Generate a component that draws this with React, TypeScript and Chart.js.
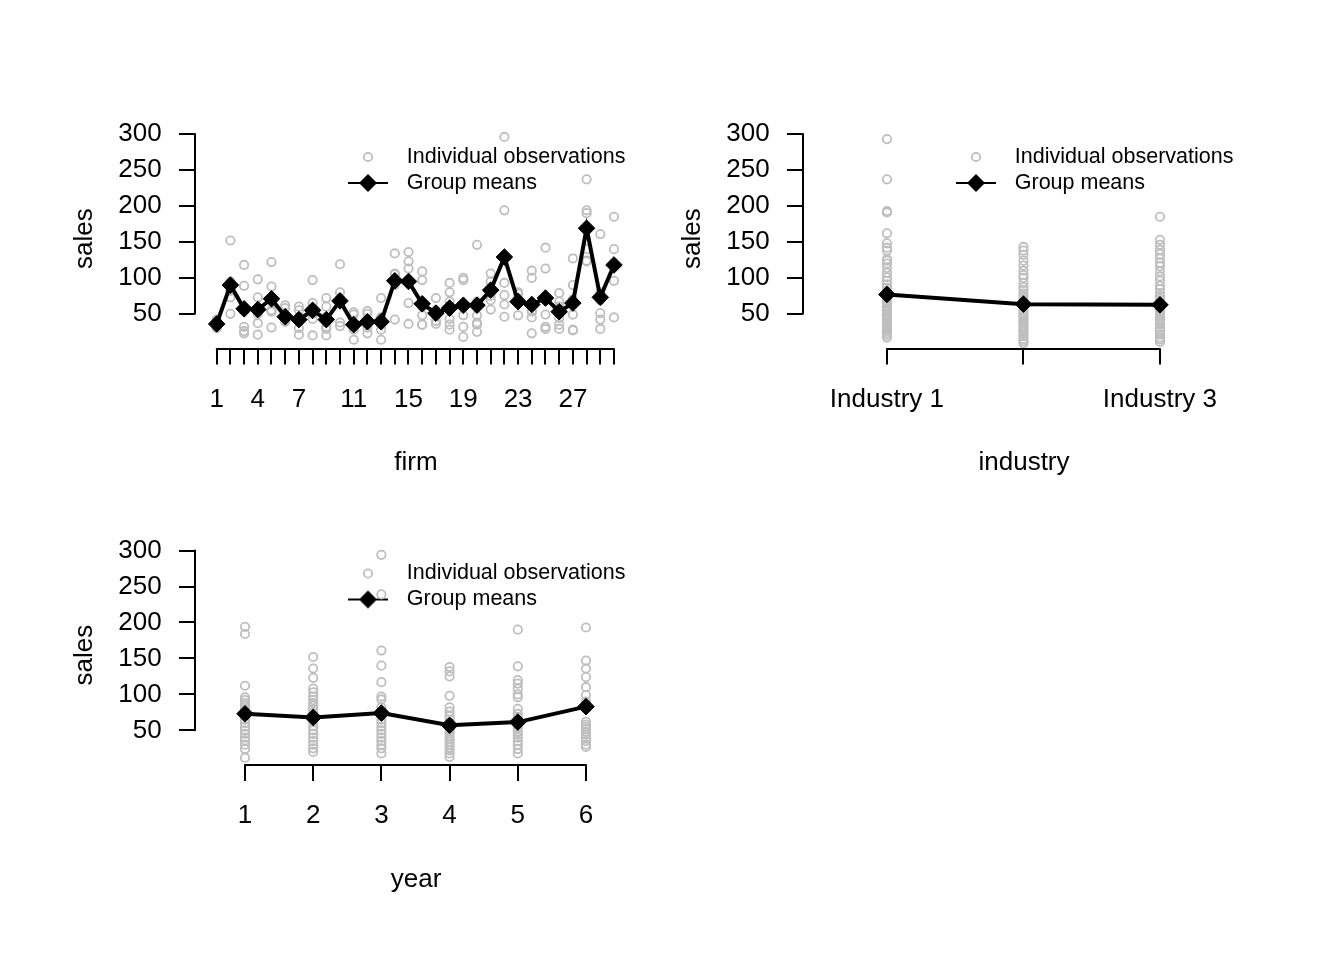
import React, { useEffect, useRef } from "react";
import { Chart, registerables } from "chart.js";

Chart.register(...registerables);
Chart.defaults.color = "#000";

const FONT = '"Liberation Sans", Arial, Helvetica, sans-serif';

// ---------------- data ----------------
const yTicks = [50, 100, 150, 200, 250, 300];

const firms = Array.from({ length: 30 }, (_, i) => i + 1);
const firmTickLabels = [
  "1", "", "", "4", "", "", "7", "", "", "", "11", "", "", "", "15",
  "", "", "", "19", "", "", "", "23", "", "", "", "27", "", "", "",
];
const firmObs = [
  [42, 39, 37, 34, 32, 30],
  [152, 95, 88, 82, 73, 50],
  [118, 89, 54, 32, 26, 23],
  [98, 73, 57, 50, 37, 21],
  [122, 88, 71, 55, 53, 31],
  [62, 58, 47, 45, 40, 39],
  [60, 55, 45, 42, 30, 21],
  [97, 65, 55, 50, 43, 20],
  [72, 60, 40, 32, 29, 20],
  [119, 80, 72, 66, 38, 33],
  [52, 49, 35, 32, 28, 14],
  [54, 50, 40, 36, 31, 23],
  [72, 45, 40, 35, 28, 14],
  [134, 106, 105, 98, 90, 42],
  [136, 123, 113, 97, 65, 36],
  [109, 97, 60, 48, 35, 35],
  [72, 55, 52, 48, 40, 36],
  [93, 80, 67, 43, 35, 28],
  [100, 97, 60, 48, 32, 18],
  [146, 67, 48, 38, 35, 25],
  [106, 95, 85, 75, 69, 56],
  [296, 194, 93, 76, 63, 46],
  [80, 78, 72, 68, 66, 48],
  [110, 100, 54, 53, 45, 23],
  [142, 113, 69, 49, 32, 29],
  [79, 67, 60, 44, 35, 29],
  [127, 90, 70, 49, 28, 27],
  [237, 194, 190, 140, 124, 123],
  [161, 80, 69, 51, 42, 29],
  [185, 140, 120, 116, 96, 45],
];
const firmMeans = [
  36, 90, 57, 56, 71, 46, 42, 55, 42, 68, 35, 39, 39, 96, 95,
  64, 51, 58, 62, 62, 83, 129, 67, 63, 72, 53, 65, 169, 73, 118,
];

const industries = [1, 2, 3];
const industryTickLabels = ["Industry 1", "", "Industry 3"];
const industryObs = [
  [293, 237, 193, 191, 162, 148, 142, 138, 126, 124, 120, 114, 107, 101, 96, 91, 86, 82, 79, 74,
    71, 68, 65, 61, 58, 55, 53, 50, 47, 44, 42, 39, 36, 34, 31, 29, 26, 23, 20, 17],
  [143, 138, 132, 124, 117, 110, 104, 100, 93, 87, 83, 78, 74, 70, 66, 62, 59, 55, 52, 49,
    46, 43, 40, 37, 34, 31, 28, 25, 22, 19, 15, 12, 9],
  [185, 153, 146, 139, 133, 127, 121, 116, 109, 102, 96, 89, 84, 79, 75, 71, 66, 62, 58, 54,
    51, 47, 44, 41, 38, 35, 31, 28, 25, 21, 17, 14, 11],
];
const industryMeans = [77, 63.5, 62.5];

const years = [1, 2, 3, 4, 5, 6];
const yearTickLabels = ["1", "2", "3", "4", "5", "6"];
const yearObs = [
  [194, 184, 112, 96, 92, 88, 84, 80, 75, 70, 65, 60, 55, 50, 45, 40, 36, 30, 24, 12],
  [152, 136, 123, 108, 103, 97, 92, 88, 84, 79, 74, 68, 62, 56, 50, 45, 40, 35, 30, 25, 20],
  [294, 239, 161, 140, 117, 97, 93, 82, 76, 70, 65, 60, 55, 50, 45, 40, 35, 30, 25, 18],
  [138, 132, 125, 98, 82, 76, 70, 65, 60, 55, 50, 46, 42, 38, 34, 30, 26, 22, 18, 13],
  [190, 139, 120, 115, 108, 100, 96, 80, 73, 68, 63, 58, 53, 48, 44, 40, 35, 30, 24, 18],
  [193, 147, 136, 124, 110, 99, 90, 62, 58, 55, 52, 48, 44, 40, 35, 30, 27],
];
const yearMeans = [73, 68, 74, 57, 61.5, 83];

const legendTexts = ["Individual observations", "Group means"];

// ---------------- styling / layout ----------------
const GRAY = "#BEBEBE";
const TICK_FONT = 26;
const LEGEND_FONT = 21.5;
const Y_MIN = 1.7;
const Y_MAX = 307.3;
const CIRCLE_R = 4.2;
const CIRCLE_W = 1.8;

type PanelSpec = {
  canvas: { x: number; y: number; w: number; h: number };
  plot: { L: number; R: number; T: number; B: number };
  xMin: number;
  xMax: number;
  cats: number[];
  tickLabels: string[];
  obs: number[][];
  means: number[];
  xTitle: string;
  xTitleY: number;
  yTitleX: number;
  legend: { x: number; y: number };
};

const panels: PanelSpec[] = [
  {
    canvas: { x: 0, y: 0, w: 672, h: 480 },
    plot: { L: 195, R: 637, T: 128.8, B: 348.6 },
    xMin: -0.584,
    xMax: 31.68,
    cats: firms,
    tickLabels: firmTickLabels,
    obs: firmObs,
    means: firmMeans,
    xTitle: "firm",
    xTitleY: 463,
    yTitleX: 85,
    legend: { x: 368, y: 157 },
  },
  {
    canvas: { x: 600, y: 0, w: 744, h: 480 },
    plot: { L: 803, R: 1245, T: 128.8, B: 348.6 },
    xMin: 0.385,
    xMax: 3.623,
    cats: industries,
    tickLabels: industryTickLabels,
    obs: industryObs,
    means: industryMeans,
    xTitle: "industry",
    xTitleY: 463,
    yTitleX: 693,
    legend: { x: 976, y: 157 },
  },
  {
    canvas: { x: 0, y: 416, w: 672, h: 544 },
    plot: { L: 195, R: 637, T: 545.3, B: 765.1 },
    xMin: 0.267,
    xMax: 6.748,
    cats: years,
    tickLabels: yearTickLabels,
    obs: yearObs,
    means: yearMeans,
    xTitle: "year",
    xTitleY: 880,
    yTitleX: 85,
    legend: { x: 368, y: 573.5 },
  },
];

function makeCircleImg(): HTMLCanvasElement {
  const c = document.createElement("canvas");
  c.width = 14;
  c.height = 14;
  const g = c.getContext("2d")!;
  g.strokeStyle = GRAY;
  g.lineWidth = CIRCLE_W;
  g.beginPath();
  g.arc(7, 7, CIRCLE_R, 0, Math.PI * 2);
  g.stroke();
  return c;
}

function makeLineDiamondImg(): HTMLCanvasElement {
  const c = document.createElement("canvas");
  c.width = 40;
  c.height = 22;
  const g = c.getContext("2d")!;
  g.strokeStyle = "#000";
  g.lineWidth = 2;
  g.beginPath();
  g.moveTo(0, 11);
  g.lineTo(40, 11);
  g.stroke();
  g.fillStyle = "#000";
  g.beginPath();
  g.moveTo(20, 2);
  g.lineTo(29, 11);
  g.lineTo(20, 20);
  g.lineTo(11, 11);
  g.closePath();
  g.fill();
  return c;
}

function Panel({ spec }: { spec: PanelSpec }) {
  const ref = useRef<HTMLCanvasElement | null>(null);

  useEffect(() => {
    const canvas = ref.current;
    if (!canvas) return;
    const { canvas: cv, plot } = spec;
    const lh = TICK_FONT * 1.2;

    const obsPoints: { x: number; y: number }[] = [];
    spec.obs.forEach((arr, i) => arr.forEach((v) => obsPoints.push({ x: spec.cats[i], y: v })));
    const meanPoints = spec.means.map((v, i) => ({ x: spec.cats[i], y: v }));

    const circleImg = makeCircleImg();
    const lineImg = makeLineDiamondImg();

    const legendLeft = spec.legend.x - cv.x - 28 - 4.5;
    const legendTop = spec.legend.y - cv.y - LEGEND_FONT / 2 - 4.5;

    const placeLegend = {
      id: "placeLegend",
      beforeDraw(chart: any) {
        const lg = chart.legend;
        if (!lg) return;
        lg.left = legendLeft;
        lg.top = legendTop;
        lg.right = chart.width;
        lg.bottom = chart.height;
        lg.width = lg.right - lg.left;
        lg.height = lg.bottom - lg.top;
      },
    };

    const axisLines = {
      id: "axisLines",
      afterDatasetsDraw(chart: any) {
        const { ctx, chartArea, scales } = chart;
        const xs = scales.x;
        const ys = scales.y;
        ctx.save();
        ctx.strokeStyle = "#000";
        ctx.lineWidth = 2;
        ctx.lineCap = "round";
        ctx.beginPath();
        ctx.moveTo(xs.getPixelForValue(spec.cats[0]), Math.round(chartArea.bottom));
        ctx.lineTo(xs.getPixelForValue(spec.cats[spec.cats.length - 1]), Math.round(chartArea.bottom));
        ctx.moveTo(Math.round(chartArea.left), ys.getPixelForValue(yTicks[0]));
        ctx.lineTo(Math.round(chartArea.left), ys.getPixelForValue(yTicks[yTicks.length - 1]));
        ctx.stroke();
        ctx.restore();
      },
    };

    const tickGrid = {
      display: true,
      drawOnChartArea: false,
      drawTicks: true,
      tickLength: 16,
      color: "#000",
      lineWidth: 2,
    };

    const chart = new Chart(canvas, {
      type: "scatter",
      data: {
        datasets: [
          {
            label: legendTexts[1],
            data: meanPoints,
            showLine: true,
            borderColor: "#000",
            borderWidth: 4,
            backgroundColor: "#000",
            pointStyle: "rectRot",
            pointRadius: 8.3,
            pointBorderWidth: 1,
            pointBackgroundColor: "#000",
            pointBorderColor: "#000",
            order: 0,
          },
          {
            label: legendTexts[0],
            data: obsPoints,
            showLine: false,
            pointStyle: "circle",
            pointRadius: CIRCLE_R,
            pointBorderWidth: CIRCLE_W,
            pointBorderColor: GRAY,
            pointBackgroundColor: "rgba(0,0,0,0)",
            borderColor: GRAY,
            backgroundColor: "rgba(0,0,0,0)",
            order: 1,
          },
        ],
      },
      options: {
        responsive: false,
        animation: false,
        events: [],
        layout: {
          padding: {
            left: 0,
            top: plot.T - cv.y,
            right: cv.x + cv.w - plot.R,
            bottom: 0,
          },
        },
        plugins: {
          tooltip: { enabled: false },
          legend: {
            display: true,
            position: "chartArea",
            align: "start",
            labels: {
              usePointStyle: true,
              pointStyleWidth: 56,
              boxHeight: LEGEND_FONT,
              padding: 4.5,
              color: "#000",
              font: { family: FONT, size: LEGEND_FONT },
              generateLabels: () => [
                {
                  text: legendTexts[0],
                  pointStyle: circleImg,
                  fontColor: "#000",
                  hidden: false,
                  lineWidth: 0,
                  strokeStyle: "rgba(0,0,0,0)",
                  fillStyle: "rgba(0,0,0,0)",
                  datasetIndex: 1,
                },
                {
                  text: legendTexts[1],
                  pointStyle: lineImg,
                  fontColor: "#000",
                  hidden: false,
                  lineWidth: 0,
                  strokeStyle: "rgba(0,0,0,0)",
                  fillStyle: "rgba(0,0,0,0)",
                  datasetIndex: 0,
                },
              ],
            },
          },
        },
        scales: {
          x: {
            type: "linear",
            position: "bottom",
            min: spec.xMin,
            max: spec.xMax,
            afterFit: (s: any) => {
              s.height = cv.y + cv.h - plot.B;
            },
            afterBuildTicks: (s: any) => {
              s.ticks = spec.cats.map((v) => ({ value: v }));
            },
            ticks: {
              autoSkip: false,
              maxRotation: 0,
              minRotation: 0,
              padding: 19.5,
              color: "#000",
              font: { family: FONT, size: TICK_FONT },
              callback: (_v: any, i: number) => spec.tickLabels[i] ?? "",
            },
            grid: tickGrid,
            border: { display: false },
            title: {
              display: true,
              text: spec.xTitle,
              color: "#000",
              font: { family: FONT, size: TICK_FONT },
              padding: { top: 0, bottom: cv.y + cv.h - spec.xTitleY - lh / 2 },
            },
          },
          y: {
            type: "linear",
            position: "left",
            min: Y_MIN,
            max: Y_MAX,
            afterFit: (s: any) => {
              s.width = plot.L - cv.x;
            },
            afterBuildTicks: (s: any) => {
              s.ticks = yTicks.map((v) => ({ value: v }));
            },
            ticks: {
              padding: 17.3,
              color: "#000",
              font: { family: FONT, size: TICK_FONT },
              callback: (v: any) => String(v),
            },
            grid: tickGrid,
            border: { display: false },
            title: {
              display: true,
              text: "sales",
              color: "#000",
              font: { family: FONT, size: TICK_FONT },
              padding: { top: spec.yTitleX - cv.x - lh / 2, bottom: 0 },
            },
          },
        },
      } as any,
      plugins: [placeLegend, axisLines],
    });

    return () => chart.destroy();
  }, [spec]);

  return (
    <canvas
      ref={ref}
      width={spec.canvas.w}
      height={spec.canvas.h}
      style={{
        position: "absolute",
        left: spec.canvas.x,
        top: spec.canvas.y,
        width: spec.canvas.w,
        height: spec.canvas.h,
      }}
    />
  );
}

export default function App() {
  return (
    <div
      style={{
        position: "fixed",
        left: 0,
        top: 0,
        width: 1344,
        height: 960,
        background: "#fff",
        overflow: "hidden",
      }}
    >
      {panels.map((p, i) => (
        <Panel key={i} spec={p} />
      ))}
    </div>
  );
}
